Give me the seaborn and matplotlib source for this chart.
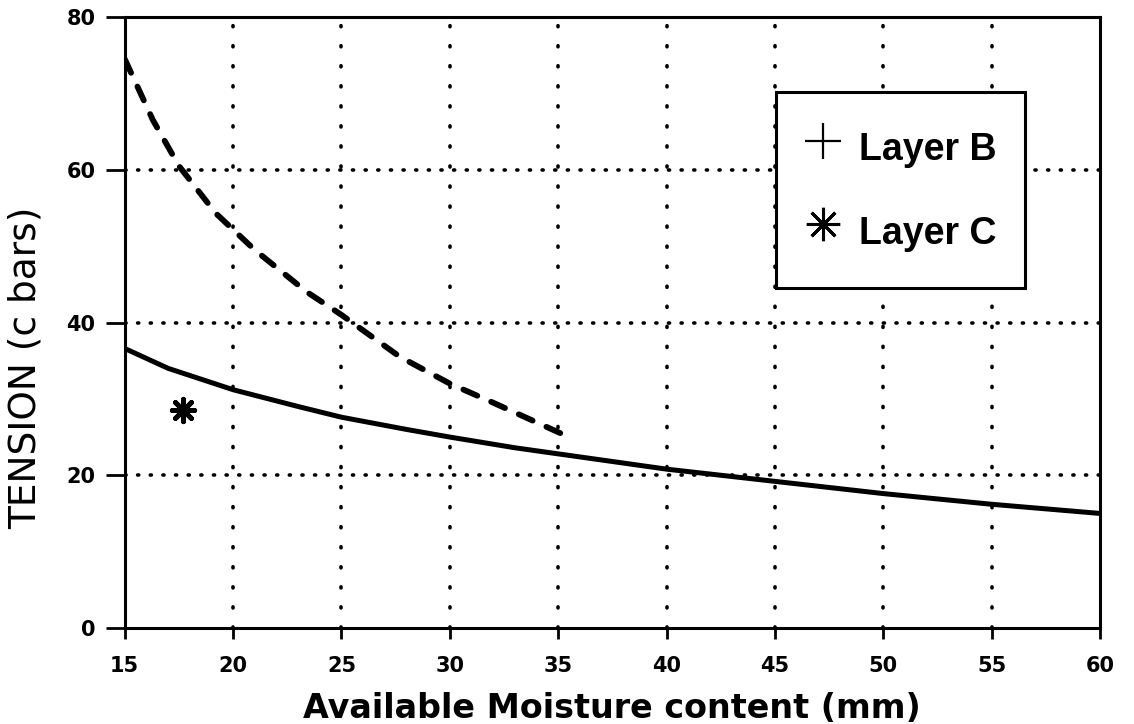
import matplotlib
matplotlib.use("Agg")
import matplotlib.pyplot as plt
from matplotlib.lines import Line2D
import seaborn as sns
import pandas as pd

# Data
solid_x = [15, 17, 20, 23, 25, 28, 30, 33, 35.5, 40, 45, 50, 55, 60]
solid_y = [36.6, 34.0, 31.2, 29.0, 27.6, 26.0, 25.0, 23.6, 22.6, 20.8, 19.2, 17.6, 16.2, 15.0]

dashed_x = [15, 16.3, 17.5, 19.2, 21, 23.4, 25, 27.7, 30, 32, 35.5]
dashed_y = [74.5, 66.5, 60.5, 54.3, 49.5, 44.0, 41.0, 35.5, 32.0, 29.5, 25.0]

layer_c_x = [17.7]
layer_c_y = [28.5]

x_ticks = [15, 20, 25, 30, 35, 40, 45, 50, 55, 60]
y_ticks = [0, 20, 40, 60, 80]
legend_labels = ["Layer B", "Layer C"]

sns.set_style("white")
plt.rcParams['font.family'] = ['Liberation Sans', 'DejaVu Sans']
plt.rcParams['text.color'] = 'black'
plt.rcParams['axes.labelcolor'] = 'black'
plt.rcParams['xtick.color'] = 'black'
plt.rcParams['ytick.color'] = 'black'

fig = plt.figure(figsize=(11.34, 7.24), dpi=100)
ax = fig.add_axes([0.110, 0.1326, 0.860, 0.8439])

df_solid = pd.DataFrame({"x": solid_x, "y": solid_y})
df_dash = pd.DataFrame({"x": dashed_x, "y": dashed_y})
df_c = pd.DataFrame({"x": layer_c_x, "y": layer_c_y})

# dotted grid
for gx in x_ticks[1:-1]:
    ax.axvline(gx, color="black", lw=2.6, ls=(0, (0.3, 5.25)), dash_capstyle="round", zorder=1)
for gy in y_ticks[1:-1]:
    ax.axhline(gy, color="black", lw=2.6, ls=(0, (0.3, 3.2)), dash_capstyle="round", zorder=1)

sns.lineplot(data=df_solid, x="x", y="y", ax=ax, color="black", lw=3.6, zorder=3)
sns.lineplot(data=df_dash, x="x", y="y", ax=ax, color="black", lw=4.2, zorder=3)
ax.lines[-1].set_linestyle((0, (2.6, 2.6)))
ax.lines[-1].set_dash_capstyle("round")
sns.scatterplot(data=df_c, x="x", y="y", ax=ax, marker=(8, 2, 0), s=260,
                color="black", linewidth=3.5, zorder=4)

ax.set_xlim(15, 60)
ax.set_ylim(0, 80)
ax.set_xticks(x_ticks)
ax.set_yticks(y_ticks)
ax.tick_params(axis="x", bottom=True, direction="out", length=8, width=2, pad=12, labelsize=15)
ax.tick_params(axis="y", left=True, direction="out", length=14, width=2, pad=7, labelsize=15)
for lab in ax.get_xticklabels() + ax.get_yticklabels():
    lab.set_fontweight("bold")
    lab.set_family(["DejaVu Sans"])

for sp in ax.spines.values():
    sp.set_visible(True)
    sp.set_color("black")
    sp.set_linewidth(2.2)

ax.set_xlabel("Available Moisture content (mm)", fontsize=24, fontweight="bold",
              family=["DejaVu Sans"], labelpad=12)
ax.set_ylabel("TENSION (c bars)", fontsize=27, family=["DejaVu Sans"])
ax.yaxis.set_label_coords(-0.083, 0.4255)

handles = [
    Line2D([], [], color="black", marker="+", ls="none", markersize=26, markeredgewidth=1.6),
    Line2D([], [], color="black", marker=(8, 2, 0), ls="none", markersize=24, markeredgewidth=2.2),
]
leg = ax.legend(handles, legend_labels, loc="upper right",
                bbox_to_anchor=(0.923, 0.877), frameon=True, fancybox=False,
                prop={"family": "Liberation Sans", "weight": "bold", "size": 27},
                handletextpad=0.45, labelspacing=0.75, borderpad=0.76,
                handlelength=1.0, handleheight=1.9, borderaxespad=0)
leg.get_frame().set_edgecolor("black")
leg.get_frame().set_linewidth(2.2)
leg.get_frame().set_facecolor("white")
leg.get_frame().set_alpha(1)
leg.set_zorder(10)

fig.savefig("out.png", dpi=100)
